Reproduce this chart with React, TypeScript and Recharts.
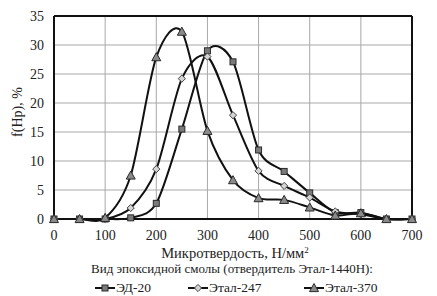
import React from "react";
import { LineChart, Line, XAxis, YAxis, CartesianGrid, ReferenceLine, Legend, Label } from "recharts";

const hardness = [0, 50, 100, 150, 200, 250, 300, 350, 400, 450, 500, 550, 600, 650, 700];
const ed20 = [0, 0, 0, 0.2, 2.7, 15.5, 29.0, 27.1, 11.9, 8.2, 4.5, 1.1, 1.1, 0, 0];
const etal247 = [0, 0, 0, 1.9, 8.6, 24.2, 28.0, 17.9, 8.3, 5.7, 3.7, 1.3, 0.8, 0, 0];
const etal370 = [0, 0, 0.2, 7.5, 27.9, 32.3, 15.2, 6.7, 3.6, 3.3, 2.0, 0.6, 1.0, 0, 0];
const xTicks = [0, 100, 200, 300, 400, 500, 600, 700];
const yTicks = [0, 5, 10, 15, 20, 25, 30, 35];
const seriesNames = ["ЭД-20", "Этал-247", "Этал-370"];

const data = hardness.map((x, i) => ({ x, ed20: ed20[i], etal247: etal247[i], etal370: etal370[i] }));

const FONT = "Liberation Serif, Times New Roman, serif";

// Excel-like smoothed curve (Catmull-Rom style Bezier)
function excelCurve(context: any) {
  let pts: number[][] = [];
  return {
    areaStart() {},
    areaEnd() {},
    lineStart() { pts = []; },
    point(x: number, y: number) { pts.push([+x, +y]); },
    lineEnd() {
      const n = pts.length;
      if (n === 0) return;
      context.moveTo(pts[0][0], pts[0][1]);
      const t = 0.145;
      for (let i = 0; i < n - 1; i++) {
        const p0 = pts[i - 1] || pts[i];
        const p1 = pts[i];
        const p2 = pts[i + 1];
        const p3 = pts[i + 2] || pts[i + 1];
        const c1x = p1[0] + (p2[0] - p0[0]) * t;
        const c1y = p1[1] + (p2[1] - p0[1]) * t;
        const c2x = p2[0] - (p3[0] - p1[0]) * t;
        const c2y = p2[1] - (p3[1] - p1[1]) * t;
        context.bezierCurveTo(c1x, c1y, c2x, c2y, p2[0], p2[1]);
      }
    },
  };
}

const SquareDot = (props: any) => {
  const { cx, cy } = props;
  if (cx == null || cy == null) return null;
  return <rect x={cx - 3} y={cy - 3} width={6} height={6} fill="#7a7a7a" stroke="#2a2a2a" strokeWidth={1} />;
};
const DiamondDot = (props: any) => {
  const { cx, cy } = props;
  if (cx == null || cy == null) return null;
  const r = 3.6;
  return <polygon points={`${cx},${cy - r} ${cx + r},${cy} ${cx},${cy + r} ${cx - r},${cy}`} fill="#d4d4d4" stroke="#444" strokeWidth={1} />;
};
const TriangleDot = (props: any) => {
  const { cx, cy } = props;
  if (cx == null || cy == null) return null;
  const r = 4.5;
  return <polygon points={`${cx},${cy - r} ${cx + r},${cy + r * 0.8} ${cx - r},${cy + r * 0.8}`} fill="#8a8a8a" stroke="#2a2a2a" strokeWidth={1} />;
};

const markers = [SquareDot, DiamondDot, TriangleDot];
const itemLefts = [95, 188, 304];

const LegendContent = () => (
  <div style={{ position: "relative", width: 437, height: 40, fontFamily: FONT, fontSize: 13.5, color: "#222" }}>
    <div style={{ position: "absolute", top: 0, left: 0, width: 464, textAlign: "center", lineHeight: "16px", whiteSpace: "nowrap", fontSize: 13 }}>
      Вид эпоксидной смолы (отвердитель Этал-1440Н):
    </div>
    {seriesNames.map((name, i) => {
      const M = markers[i];
      return (
        <div key={name} style={{ position: "absolute", top: 19, left: itemLefts[i], display: "flex", alignItems: "center", lineHeight: "16px" }}>
          <svg width={20} height={12} style={{ marginRight: 1 }}>
            <line x1={0} y1={6} x2={20} y2={6} stroke="#111" strokeWidth={2} />
            <M cx={10} cy={6} />
          </svg>
          <span>{name}</span>
        </div>
      );
    })}
  </div>
);

export default function App() {
  return (
    <div style={{ position: "absolute", left: 0, top: 0 }}>
      <LineChart width={437} height={296} data={data} margin={{ top: 16, right: 25, left: 0, bottom: 0 }}>
        <CartesianGrid stroke="#a8a8a8" strokeWidth={1} />
        <XAxis
          dataKey="x"
          type="number"
          domain={[0, 700]}
          ticks={xTicks}
          height={77}
          tickLine={false}
          axisLine={{ stroke: "#111", strokeWidth: 2 }}
          tick={{ fontFamily: FONT, fontSize: 14, fill: "#222" }}
          tickMargin={5}
        >
          <Label
            content={() => (
              <text x={235} y={258} textAnchor="middle" fontFamily={FONT} fontSize={14.5} fill="#222">
                Микротвердость, Н/мм<tspan dy={-5} fontSize={9}>2</tspan>
              </text>
            )}
          />
        </XAxis>
        <YAxis
          type="number"
          domain={[0, 35]}
          ticks={yTicks}
          width={54}
          tickLine={false}
          axisLine={{ stroke: "#111", strokeWidth: 2 }}
          tick={{ fontFamily: FONT, fontSize: 14, fill: "#222" }}
          tickMargin={4}
        >
          <Label
            content={() => (
              <text x={0} y={0} transform="translate(22,112) rotate(-90)" textAnchor="middle" fontFamily={FONT} fontSize={14} fill="#222">
                f(Hp), %
              </text>
            )}
          />
        </YAxis>
        <ReferenceLine y={35} stroke="#111" strokeWidth={2} />
        <ReferenceLine x={700} stroke="#111" strokeWidth={2} />
        <Legend
          layout="horizontal"
          verticalAlign="middle"
          align="center"
          content={() => <LegendContent />}
          wrapperStyle={{ top: 261, left: 0, width: 437 }}
        />
        <Line dataKey="ed20" name="ЭД-20" type={excelCurve as any} stroke="#111" strokeWidth={2} dot={<SquareDot />} isAnimationActive={false} />
        <Line dataKey="etal247" name="Этал-247" type={excelCurve as any} stroke="#111" strokeWidth={2} dot={<DiamondDot />} isAnimationActive={false} />
        <Line dataKey="etal370" name="Этал-370" type={excelCurve as any} stroke="#111" strokeWidth={2} dot={<TriangleDot />} isAnimationActive={false} />
      </LineChart>
    </div>
  );
}
